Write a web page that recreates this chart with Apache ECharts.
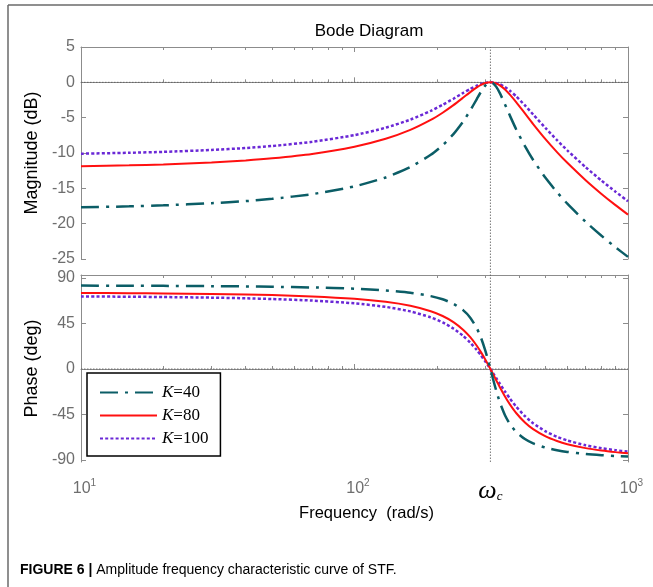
<!DOCTYPE html>
<html><head><meta charset="utf-8">
<script src="https://cdn.jsdelivr.net/npm/echarts@6/dist/echarts.min.js"></script>
<style>html,body{margin:0;padding:0;background:#fff}#c{width:653px;height:587px}</style>
</head><body><div id="c"></div>
<script>
// ---- data ----
const seriesNames = ['K=40', 'K=80', 'K=100'];
const freq = [10,15,20,30,40,50,70,100,130,160,190,210,230,250,265,280,290,300,307,314,321,330,340,355,370,390,420,450,500,550,600,700,800,900,1000];
const magK40 = [-17.69,-17.55,-17.41,-17.11,-16.81,-16.49,-15.82,-14.72,-13.46,-11.99,-10.26,-8.90,-7.33,-5.51,-3.98,-2.36,-1.34,-0.50,-0.13,0,-0.13,-0.64,-1.53,-3.12,-4.71,-6.64,-9.04,-10.99,-13.55,-15.54,-17.17,-19.74,-21.72,-23.34,-24.70];
const magK80 = [-11.89,-11.75,-11.62,-11.34,-11.05,-10.75,-10.13,-9.11,-7.99,-6.73,-5.32,-4.30,-3.23,-2.15,-1.38,-0.72,-0.37,-0.13,-0.03,0,-0.03,-0.17,-0.44,-1.01,-1.73,-2.79,-4.40,-5.90,-8.07,-9.87,-11.39,-13.85,-15.79,-17.38,-18.72];
const magK100 = [-10.10,-9.97,-9.84,-9.57,-9.30,-9.01,-8.42,-7.47,-6.42,-5.28,-4.04,-3.18,-2.32,-1.49,-0.93,-0.48,-0.24,-0.08,-0.02,0,-0.02,-0.11,-0.28,-0.67,-1.18,-1.98,-3.27,-4.55,-6.49,-8.18,-9.63,-12.01,-13.91,-15.48,-16.82];
const phK40 = [82.50,82.38,82.25,81.98,81.69,81.38,80.69,79.41,77.74,75.44,72.12,68.96,64.54,57.99,50.78,40.36,30.96,19.29,9.93,0,-9.93,-21.80,-33.02,-45.71,-54.46,-62.24,-69.33,-73.61,-77.86,-80.38,-82.04,-84.08,-85.29,-86.10,-86.66];
const phK80 = [75.26,75.02,74.78,74.27,73.72,73.14,71.85,69.50,66.50,62.55,57.17,52.43,46.40,38.66,31.49,23.03,16.70,9.93,5.00,0,-5.00,-11.31,-18.00,-27.14,-34.99,-43.53,-52.95,-59.53,-66.73,-71.27,-74.37,-78.29,-80.65,-82.23,-83.35];
const phK100 = [71.79,71.51,71.21,70.60,69.95,69.25,67.71,64.95,61.48,57.00,51.12,46.12,40.03,32.62,26.10,18.78,13.50,7.97,4.00,0,-4.00,-9.09,-14.57,-22.29,-29.25,-37.23,-46.67,-53.67,-61.74,-67.04,-70.73,-75.48,-78.37,-80.32,-81.71];
const omegaC = 314;
const xMajor = [10, 100, 1000];
const xMinor = [20,30,40,50,60,70,80,90,200,300,400,500,600,700,800,900];
const xLabels = [10, 100, 314, 1000];
const magTicks = [-25,-20,-15,-10,-5,0,5];
const phaseTicks = [-90,-45,0,45,90];

// ---- styling ----
const AX = '#8c8c8c';
const LBL = '#6e6e6e';
const SANS = "'Liberation Sans Narrow','Liberation Sans',Arial,sans-serif";
const SANSN = "'Liberation Sans',Arial,sans-serif";
const SERIF = "'Liberation Serif','Times New Roman',serif";
const colors = ['#0b5d66', '#ff1010', '#6a28d6'];
const styles = [
  {color: colors[0], width: 2.5, type: [18, 7, 3, 7], cap: 'butt'},
  {color: colors[1], width: 2, type: 'solid', cap: 'butt'},
  {color: colors[2], width: 2.5, type: [3, 2.2], cap: 'butt'}
];
const grids = [
  {left: 81, top: 47, width: 547, height: 212},
  {left: 81, top: 275, width: 547, height: 187},
  {left: 81, top: 47, width: 547, height: 415}
];

function logAx(g, pos, ticks, len, showLine, extra) {
  return Object.assign({
    type: 'log', logBase: 10, min: 10, max: 1000, gridIndex: g, position: pos,
    axisLine: {show: showLine, lineStyle: {color: AX, width: 1}},
    axisTick: {show: true, inside: true, length: len, customValues: ticks, lineStyle: {color: AX, width: 1}},
    axisLabel: {show: false},
    splitLine: {show: false}, minorTick: {show: false}
  }, extra || {});
}
function supFmt(v) {
  const r = Math.round(v);
  if (r === 10) return '{p|}10{s|1}';
  if (r === 100) return '{p|}10{s|2}';
  if (r === 1000) return '{p|}10{s|3}';
  return '{w|ω}{c|c}';
}
const xAxes = [
  logAx(0, 'bottom', xMajor, 5, true),
  logAx(0, 'bottom', xMinor, 3, false),
  logAx(0, 'top', xMajor, 5, true),
  logAx(0, 'top', xMinor, 3, false),
  logAx(1, 'bottom', xMajor, 5, true, {
    axisLabel: {show: true, customValues: xLabels, formatter: supFmt, margin: 16,
      color: LBL, fontFamily: SANSN, fontSize: 16,
      rich: {
        p: {width: 7, fontSize: 10},
        s: {fontSize: 10, fontFamily: SANSN, color: LBL, padding: [0, 0, 12, 0]},
        w: {fontSize: 26, fontFamily: SERIF, fontStyle: 'italic', color: '#000'},
        c: {fontSize: 13, fontFamily: SERIF, fontStyle: 'italic', color: '#000', padding: [12, 0, 0, 0]}
      }},
    name: 'Frequency  (rad/s)', nameLocation: 'middle', nameGap: 42,
    nameTextStyle: {color: '#000', fontSize: 16.5, fontFamily: SANSN, padding: [0, 0, 0, 24]}
  }),
  logAx(1, 'bottom', xMinor, 3, false),
  logAx(1, 'top', xMajor, 5, true),
  logAx(1, 'top', xMinor, 3, false),
  {type: 'log', logBase: 10, min: 10, max: 1000, gridIndex: 2, show: false}
];
function valAx(g, pos, min, max, ticks, showLabel, name) {
  const a = {
    type: 'value', gridIndex: g, position: pos, min: min, max: max,
    axisLine: {show: true, lineStyle: {color: AX, width: 1}},
    axisTick: {show: true, inside: true, length: 5, customValues: ticks, lineStyle: {color: AX, width: 1}},
    axisLabel: {show: showLabel, customValues: ticks, color: LBL, fontFamily: SANSN, fontSize: 16, margin: 6},
    splitLine: {show: false}
  };
  if (name) {
    a.name = name; a.nameLocation = 'middle'; a.nameGap = 38;
    a.nameTextStyle = {color: '#000', fontSize: 18, fontFamily: SANSN};
  }
  return a;
}
const yAxes = [
  valAx(0, 'left', -25, 5, magTicks, true, 'Magnitude (dB)'),
  valAx(0, 'right', -25, 5, magTicks, false),
  valAx(1, 'left', -92, 93, phaseTicks, true, 'Phase (deg)'),
  valAx(1, 'right', -92, 93, phaseTicks, false),
  {type: 'value', gridIndex: 2, min: 0, max: 1, show: false}
];

const mags = [magK40, magK80, magK100];
const phs = [phK40, phK80, phK100];
const series = [];
const refStyle = {color: '#555', width: 0.8, type: [1.5, 1.5]};
series.push({type: 'line', xAxisIndex: 0, yAxisIndex: 0, data: [[10, 0], [1000, 0]], symbol: 'none', silent: true, z: 1, lineStyle: refStyle});
series.push({type: 'line', xAxisIndex: 4, yAxisIndex: 2, data: [[10, 0], [1000, 0]], symbol: 'none', silent: true, z: 1, lineStyle: refStyle});
series.push({type: 'line', xAxisIndex: 8, yAxisIndex: 4, data: [[omegaC, 0], [omegaC, 1]], symbol: 'none', silent: true, z: 1, lineStyle: refStyle});
seriesNames.forEach((n, i) => {
  const ls = {color: styles[i].color, width: styles[i].width, type: styles[i].type, cap: styles[i].cap};
  series.push({name: n, type: 'line', xAxisIndex: 0, yAxisIndex: 0, symbol: 'none', smooth: 0.2, z: 3 + (2 - i),
    itemStyle: {color: styles[i].color}, lineStyle: ls, data: freq.map((f, j) => [f, mags[i][j]])});
  series.push({name: n, type: 'line', xAxisIndex: 4, yAxisIndex: 2, symbol: 'none', smooth: 0.2, z: 3 + (2 - i),
    itemStyle: {color: styles[i].color}, lineStyle: ls, data: freq.map((f, j) => [f, phs[i][j]])});
});

const chart = echarts.init(document.getElementById('c'), null, {renderer: 'canvas'});
chart.setOption({
  animation: false,
  backgroundColor: '#fff',
  title: [
    {text: 'Bode Diagram', left: 364, top: 18, textAlign: 'center',
      textStyle: {fontSize: 17, fontWeight: 'normal', color: '#000', fontFamily: SANSN}},
    {text: '{b|FIGURE 6 |} Amplitude frequency characteristic curve of STF.', left: 15, top: 558,
      textStyle: {fontSize: 14, fontWeight: 'normal', color: '#000', fontFamily: SANS,
        rich: {b: {fontSize: 14, fontWeight: 'bold', color: '#000', fontFamily: SANS}}}}
  ],
  legend: {
    data: seriesNames, orient: 'vertical', left: 87, top: 373, selectedMode: false,
    itemWidth: 57, itemHeight: 18, itemGap: 6, padding: [11, 12, 9, 12],
    borderColor: '#000', borderWidth: 1.5, backgroundColor: '#fff', z: 10,
    itemStyle: {opacity: 0},
    formatter: n => '{k|K}' + n.slice(1),
    textStyle: {fontFamily: SERIF, fontSize: 17, color: '#000',
      rich: {k: {fontFamily: SERIF, fontStyle: 'italic', fontSize: 17, color: '#000'}}}
  },
  grid: grids,
  xAxis: xAxes,
  yAxis: yAxes,
  series: series,
  graphic: [
    {type: 'line', shape: {x1: 8, y1: 5, x2: 653, y2: 5}, style: {stroke: '#6a6a6a', lineWidth: 1.5}, silent: true},
    {type: 'line', shape: {x1: 8, y1: 5, x2: 8, y2: 587}, style: {stroke: '#6a6a6a', lineWidth: 1.5}, silent: true}
  ]
});
</script>
</body></html>
